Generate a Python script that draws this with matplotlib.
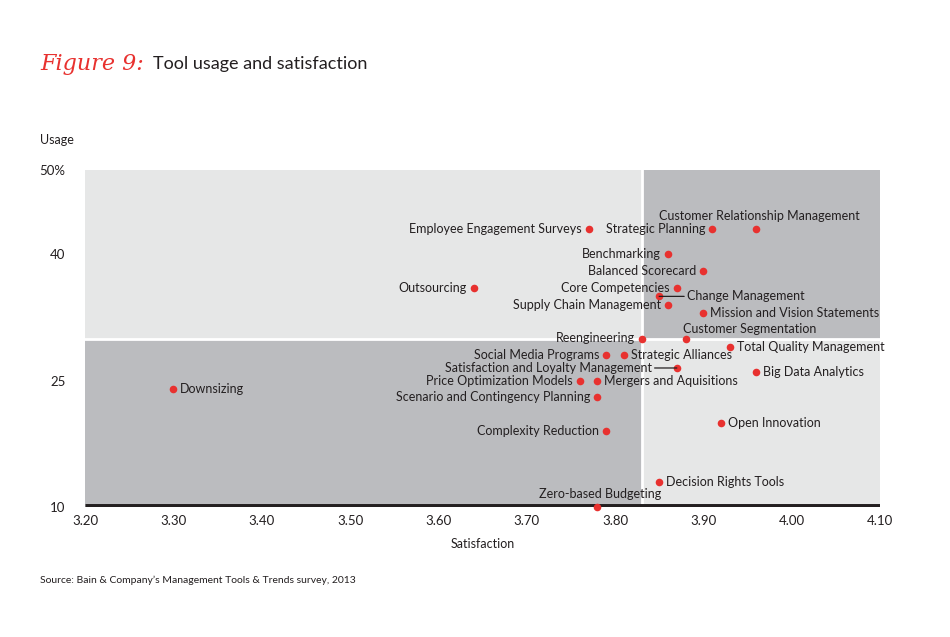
import matplotlib.pyplot as plt
from matplotlib.patches import Rectangle

tools = ['Employee Engagement Surveys', 'Strategic Planning', 'Customer Relationship Management',
         'Benchmarking', 'Balanced Scorecard', 'Outsourcing', 'Core Competencies',
         'Change Management', 'Supply Chain Management', 'Mission and Vision Statements',
         'Reengineering', 'Customer Segmentation', 'Total Quality Management',
         'Social Media Programs', 'Strategic Alliances', 'Satisfaction and Loyalty Management',
         'Big Data Analytics', 'Price Optimization Models', 'Mergers and Aquisitions',
         'Downsizing', 'Scenario and Contingency Planning', 'Open Innovation',
         'Complexity Reduction', 'Decision Rights Tools', 'Zero-based Budgeting']
satisfaction = [3.77, 3.91, 3.96, 3.86, 3.90, 3.64, 3.87, 3.85, 3.86, 3.90,
                3.83, 3.88, 3.93, 3.79, 3.81, 3.87, 3.96, 3.76, 3.78,
                3.30, 3.78, 3.92, 3.79, 3.85, 3.78]
usage = [43, 43, 43, 40, 38, 36, 36, 35, 34, 33,
         30, 30, 29, 28, 28, 26.5, 26, 25, 25,
         24, 23, 20, 19, 13, 10]

x_ticks = [3.20, 3.30, 3.40, 3.50, 3.60, 3.70, 3.80, 3.90, 4.00, 4.10]
y_ticks = [10, 25, 40, 50]
y_labels = ['10', '25', '40', '50%']
x_split = 3.83
y_split = 30

# label placement: l=left, r=right, t=above centred, tr=above right, ll/lr = with leader line
place = {'Customer Relationship Management': 't', 'Zero-based Budgeting': 't',
         'Customer Segmentation': 'tr', 'Change Management': 'lr',
         'Satisfaction and Loyalty Management': 'll', 'Mission and Vision Statements': 'r',
         'Total Quality Management': 'r', 'Strategic Alliances': 'r', 'Big Data Analytics': 'r',
         'Mergers and Aquisitions': 'r', 'Downsizing': 'r', 'Open Innovation': 'r',
         'Decision Rights Tools': 'r'}

plt.rcParams['font.family'] = ['Lato', 'DejaVu Sans']
red = '#e8312f'
light = '#e6e7e7'
dark = '#bbbcbf'

fig = plt.figure(figsize=(9.5, 6.37), dpi=100)
ax = fig.add_axes([85 / 950, 1 - 507 / 637, 795 / 950, 337 / 637])
ax.set_xlim(3.2, 4.1)
ax.set_ylim(10, 50)

# quadrants with white gaps
quads = [(3.2, y_split, x_split - 3.2, 50 - y_split, light),
         (x_split, y_split, 4.1 - x_split, 50 - y_split, dark),
         (3.2, 10, x_split - 3.2, y_split - 10, dark),
         (x_split, 10, 4.1 - x_split, y_split - 10, light)]
for qx, qy, w, h, c in quads:
    ax.add_patch(Rectangle((qx, qy), w, h, facecolor=c, edgecolor='none', zorder=0))
ax.axvline(x_split, color='white', lw=2, zorder=1)
ax.axhline(y_split, color='white', lw=2, zorder=1)
ax.axhline(10, color='#231f20', lw=5, zorder=2, solid_capstyle='butt')

ax.scatter(satisfaction, usage, s=30, color=red, zorder=5, clip_on=False, linewidths=0)

fs = 9
tc = '#231f20'
for name, sx, uy in zip(tools, satisfaction, usage):
    p = place.get(name, 'l')
    if p == 'l':
        ax.annotate(name, (sx, uy), xytext=(-5, 0), textcoords='offset points',
                    ha='right', va='center', fontsize=fs, color=tc, zorder=6)
    elif p == 'r':
        ax.annotate(name, (sx, uy), xytext=(5, 0), textcoords='offset points',
                    ha='left', va='center', fontsize=fs, color=tc, zorder=6)
    elif p == 't':
        ax.annotate(name, (sx, uy), xytext=(2, 9), textcoords='offset points',
                    ha='center', va='center', fontsize=fs, color=tc, zorder=6)
    elif p == 'tr':
        ax.annotate(name, (sx, uy), xytext=(-2, 7), textcoords='offset points',
                    ha='left', va='center', fontsize=fs, color=tc, zorder=6)
    elif p == 'lr':
        ax.annotate(name, (sx, uy), xytext=(20, 0), textcoords='offset points',
                    ha='left', va='center', fontsize=fs, color=tc, zorder=6,
                    arrowprops=dict(arrowstyle='-', color=tc, lw=0.9, shrinkA=0, shrinkB=0))
    elif p == 'll':
        ax.annotate(name, (sx, uy), xytext=(-18, 0), textcoords='offset points',
                    ha='right', va='center', fontsize=fs, color=tc, zorder=6,
                    arrowprops=dict(arrowstyle='-', color=tc, lw=0.9, shrinkA=0, shrinkB=0))

for s in ax.spines.values():
    s.set_visible(False)
ax.set_xticks(x_ticks)
ax.set_xticklabels(['%.2f' % v for v in x_ticks], fontsize=9.5, color=tc)
ax.set_yticks(y_ticks)
ax.set_yticklabels(y_labels, fontsize=9.5, color=tc)
ax.tick_params(length=0)
ax.tick_params(axis='x', pad=6)
ax.tick_params(axis='y', pad=14)
ax.set_xlabel('Satisfaction', fontsize=9, color=tc, labelpad=8)

fig.text(40 / 950, 1 - 140 / 637, 'Usage', fontsize=9, color=tc, va='center')
fig.text(40 / 950, 1 - 64 / 637, 'Figure 9:', fontsize=16, color=red, va='center',
         family='DejaVu Serif', style='italic')
fig.text(153 / 950, 1 - 64 / 637, 'Tool usage and satisfaction', fontsize=13, color=tc, va='center')
fig.text(40 / 950, 1 - 580 / 637, "Source: Bain & Company\u2019s Management Tools & Trends survey, 2013",
         fontsize=7.5, color=tc, va='center')

fig.savefig('out.png', dpi=100)
